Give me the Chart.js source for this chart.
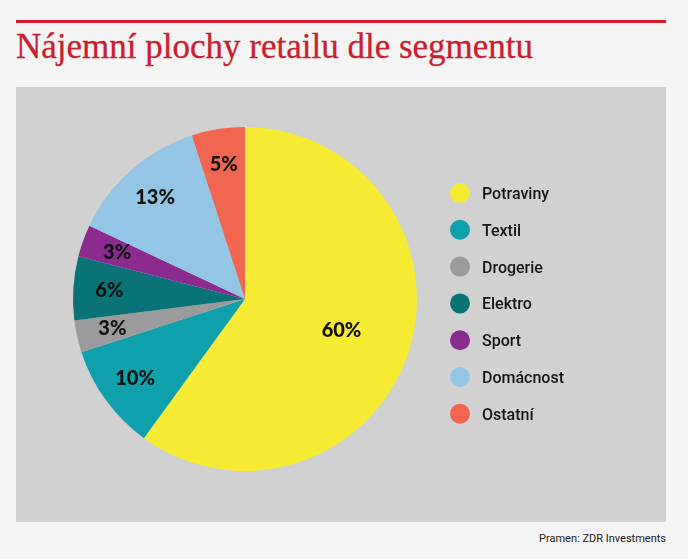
<!DOCTYPE html>
<html>
<head>
<meta charset="utf-8">
<script src="https://cdn.jsdelivr.net/npm/chart.js@4"></script>
<style>
  body { margin: 0; background: #f4f4f4; width: 688px; height: 559px; position: relative; overflow: hidden; }
  #rule { position: absolute; left: 16px; top: 20px; width: 650px; height: 3px; background: #d0202e; }
  #title { position: absolute; left: 16px; top: 27px; font-family: "Liberation Serif", "DejaVu Serif", serif; font-size: 35px; color: #c8202f; white-space: nowrap; -webkit-text-stroke: 0.3px #c8202f; }
  #panel { position: absolute; left: 16px; top: 87px; width: 650px; height: 435px; background: #d1d1d1; }
  #source { position: absolute; right: 22px; top: 532px; font-family: "Liberation Sans Narrow", "Roboto", sans-serif; font-size: 11px; color: #222; }
</style>
</head>
<body>
<div id="rule"></div>
<div id="title">Nájemní plochy retailu dle segmentu</div>
<div id="panel"><canvas id="chart1" width="650" height="435"></canvas></div>
<div id="source">Pramen: ZDR Investments</div>
<script>
const labels = ['Potraviny', 'Textil', 'Drogerie', 'Elektro', 'Sport', 'Domácnost', 'Ostatní'];
const values = [60, 10, 3, 6, 3, 13, 5];
const colors = ['#f7ec33', '#0fa0ac', '#9b9b9d', '#0a7378', '#8b2a8f', '#93c6e4', '#f06650'];

// percent labels inside the slices
const sliceLabels = {
    id: 'sliceLabels',
    afterDatasetsDraw(chart){
        const ctx = chart.ctx;
        const meta = chart.getDatasetMeta(0);
        ctx.save();
        ctx.font = '900 20px Lato, "Open Sans", sans-serif';
        ctx.fillStyle = '#111';
        ctx.textAlign = 'center';
        ctx.textBaseline = 'middle';
        meta.data.forEach((arc, i) => {
            const mid = (arc.startAngle + arc.endAngle) / 2;
            const f = values[i] > 50 ? 0.59 : 0.79;
            const r = arc.outerRadius * f;
            ctx.fillText(values[i] + '%', arc.x + Math.cos(mid) * r, arc.y + Math.sin(mid) * r);
        });
        ctx.restore();
    }
};

// legend with round markers on the right
const sideLegend = {
    id: 'sideLegend',
    afterDraw(chart){
        const ctx = chart.ctx;
        ctx.save();
        ctx.font = '500 16px Roboto, sans-serif';
        ctx.textBaseline = 'middle';
        labels.forEach((name, i) => {
            const y = 106 + i * 36.8;
            ctx.beginPath();
            ctx.arc(444, y, 10, 0, Math.PI * 2);
            ctx.fillStyle = colors[i];
            ctx.fill();
            ctx.fillStyle = '#151515';
            ctx.fillText(name, 466, y + 2);
        });
        ctx.restore();
    }
};

let myChart = new Chart(document.getElementById('chart1').getContext('2d'), {
    type: 'pie',
    data: {
        labels: labels,
        datasets: [{
            data: values,
            backgroundColor: colors,
            borderWidth: 0
        }]
    },
    options: {
        responsive: false,
        animation: false,
        layout: { padding: { left: 57, right: 249, top: 40, bottom: 51 } },
        plugins: {
            legend: { display: false },
            tooltip: { enabled: false }
        }
    },
    plugins: [sliceLabels, sideLegend]
});
</script>
</body>
</html>
